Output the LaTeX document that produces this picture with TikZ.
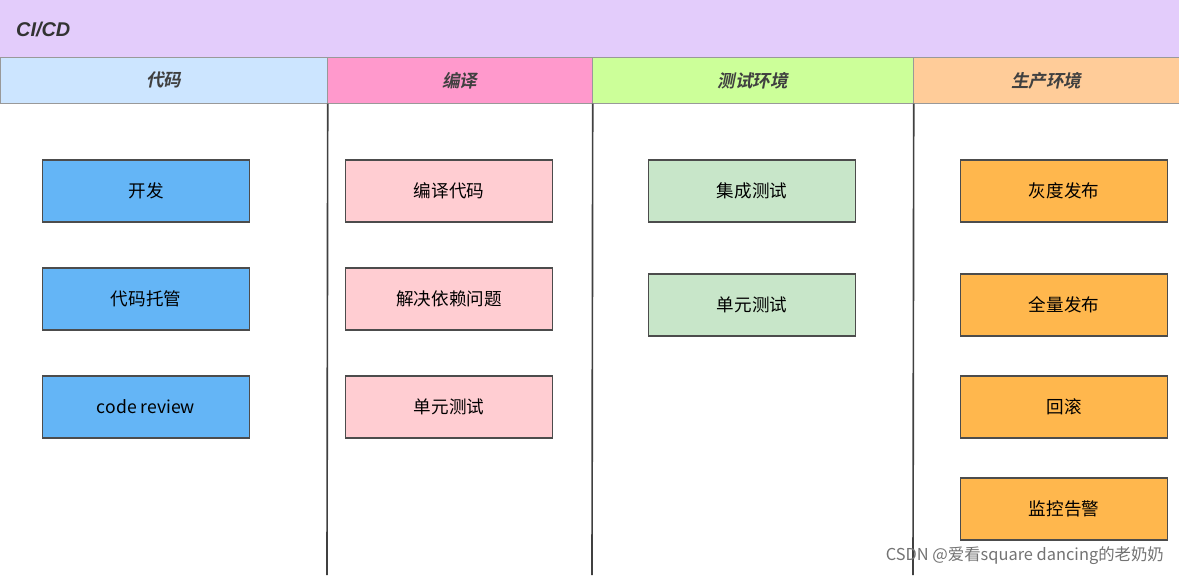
\documentclass[tikz,border=0pt]{standalone}
\usepackage{fontspec}
\setmainfont{Liberation Sans}
\newfontfamily\cjk{Noto Sans CJK SC}
\newfontfamily\cjkhead[FakeSlant=0.2]{Noto Sans CJK SC Bold}
\definecolor{titlebg}{HTML}{E3CCFB}
\definecolor{hdcode}{HTML}{CCE5FF}
\definecolor{hdbuild}{HTML}{FF99CC}
\definecolor{hdtest}{HTML}{CCFF99}
\definecolor{hdprod}{HTML}{FFCC99}
\definecolor{bluebox}{HTML}{64B5F6}
\definecolor{pinkbox}{HTML}{FFCDD2}
\definecolor{greenbox}{HTML}{C8E6C9}
\definecolor{orangebox}{HTML}{FFB74D}
\begin{document}
\begin{tikzpicture}[
    x=0.03cm, y=-0.03cm,
    task/.style={
        rectangle,
        minimum width=6.21cm,
        minimum height=1.86cm,
        draw=black!70,
        line width=1.2pt,
        font=\fontsize{15}{18}\selectfont\cjk
    },
    head/.style={
        rectangle,
        anchor=north west,
        inner sep=0pt,
        draw=black!40,
        line width=0.6pt,
        minimum height=1.38cm,
        text=black!75,
        font=\fontsize{15}{18}\selectfont\cjkhead
    },
    lane/.style={draw=black!75, line width=1.4pt}
]
\useasboundingbox (0,0) rectangle (1179,575);

% Title bar
\fill[titlebg] (0,0) rectangle (1179,57);
\node[anchor=west, text=black!80, font=\fontsize{17}{20}\selectfont\bfseries\itshape] (title) at (12,29) {CI/CD};

% Column headers
\node[head, fill=hdcode, minimum width=9.81cm] (hcode) at (0,57) {代码};
\node[head, fill=hdbuild, minimum width=7.95cm] (hbuild) at (327,57) {编译};
\node[head, fill=hdtest, minimum width=9.63cm] (htest) at (592,57) {测试环境};
\node[head, fill=hdprod, minimum width=7.98cm] (hprod) at (913,57) {生产环境};

% Lane separators
\draw[lane] (hcode.south east) -- (327,575);
\draw[lane] (hbuild.south east) -- (592,575);
\draw[lane] (htest.south east) -- (913,575);

% Code
\node[task, fill=bluebox] (dev) at (146,191) {开发};
\node[task, fill=bluebox] (host) at (146,299) {代码托管};
\node[task, fill=bluebox] (review) at (146,407) {code review};

% Build
\node[task, fill=pinkbox] (compile) at (449,191) {编译代码};
\node[task, fill=pinkbox] (deps) at (449,299) {解决依赖问题};
\node[task, fill=pinkbox] (unit1) at (449,407) {单元测试};

% Test
\node[task, fill=greenbox] (integ) at (752,191) {集成测试};
\node[task, fill=greenbox] (unit2) at (752,305) {单元测试};

% Production
\node[task, fill=orangebox] (gray) at (1064,191) {灰度发布};
\node[task, fill=orangebox] (full) at (1064,305) {全量发布};
\node[task, fill=orangebox] (rollback) at (1064,407) {回滚};
\node[task, fill=orangebox] (monitor) at (1064,509) {监控告警};

% Watermark
\node[anchor=east, text=black!55, font=\fontsize{14}{16}\selectfont\cjk] (mark) at (1168,556) {CSDN @爱看square dancing的老奶奶};
\end{tikzpicture}
\end{document}
